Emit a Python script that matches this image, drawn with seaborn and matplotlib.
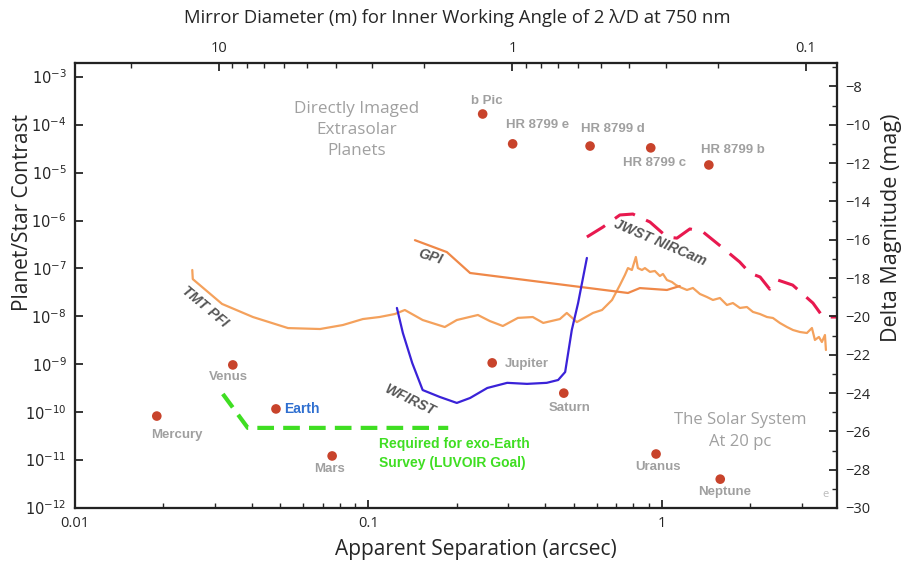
import numpy as np
import pandas as pd
import matplotlib
matplotlib.use("Agg")
import matplotlib.pyplot as plt
import matplotlib.ticker as mticker
import seaborn as sns

# ---------------- data ----------------
planet_names = ["b Pic", "HR 8799 e", "HR 8799 d", "HR 8799 c", "HR 8799 b",
                "Jupiter", "Saturn", "Uranus", "Neptune",
                "Venus", "Earth", "Mercury", "Mars"]
planet_sep = [0.245, 0.310, 0.569, 0.916, 1.445,
              0.264, 0.463, 0.955, 1.58,
              0.0345, 0.0484, 0.019, 0.0752]
planet_contrast = [1.68e-4, 4.0e-5, 3.6e-5, 3.3e-5, 1.45e-5,
                   1.07e-9, 2.5e-10, 1.34e-11, 4.0e-12,
                   9.7e-10, 1.17e-10, 8.3e-11, 1.22e-11]

tmt_sep = [0.0251, 0.0252, 0.0317, 0.0404, 0.0532, 0.0684, 0.0818, 0.0957, 0.109,
           0.123, 0.133, 0.153, 0.182, 0.200, 0.236, 0.259, 0.287, 0.323, 0.363,
           0.394, 0.449, 0.474, 0.513, 0.582, 0.625, 0.676, 0.719, 0.748, 0.766,
           0.790, 0.815, 0.828, 0.855, 0.875, 0.910, 0.946, 0.984, 1.008, 1.04,
           1.082, 1.116, 1.15, 1.217, 1.275, 1.347, 1.423, 1.492, 1.576, 1.665,
           1.745, 1.844, 1.948, 2.042, 2.158, 2.280, 2.389, 2.523, 2.667, 2.795,
           2.953, 3.119, 3.244, 3.321, 3.427, 3.508, 3.593, 3.621]
tmt_contrast = [9.3e-8, 6.0e-8, 1.82e-8, 9.7e-9, 5.7e-9, 5.45e-9, 6.6e-9, 8.8e-9, 9.7e-9,
                1.12e-8, 1.36e-8, 8.4e-9, 6.0e-9, 8.4e-9, 1.07e-8, 8.0e-9, 6.3e-9, 9.3e-9, 9.7e-9,
                7.3e-9, 8.8e-9, 1.18e-8, 7.6e-9, 1.18e-8, 1.36e-8, 2.2e-8, 4.5e-8, 7.32e-8, 1.02e-7,
                9.3e-8, 1.74e-7, 1.02e-7, 9.3e-8, 1.02e-7, 8.5e-8, 8.87e-8, 6.97e-8, 7.68e-8, 5.75e-8,
                5.22e-8, 4.52e-8, 4.11e-8, 3.56e-8, 3.92e-8, 2.94e-8, 2.54e-8, 2.20e-8, 2.42e-8, 1.73e-8,
                1.90e-8, 1.50e-8, 1.57e-8, 1.24e-8, 1.12e-8, 9.7e-9, 9.26e-9, 7.28e-9, 6.0e-9, 5.2e-9,
                4.72e-9, 4.5e-9, 5.72e-9, 3.22e-9, 3.72e-9, 2.92e-9, 4.09e-9, 1.99e-9]

gpi_sep = [0.144, 0.185, 0.222, 0.766, 0.841, 1.04, 1.15]
gpi_contrast = [3.9e-7, 2.2e-7, 8.05e-8, 3.08e-8, 3.9e-8, 3.56e-8, 4.3e-8]

wfirst_sep = [0.125, 0.131, 0.141, 0.153, 0.175, 0.200, 0.222, 0.254, 0.297,
              0.347, 0.405, 0.443, 0.468, 0.493, 0.518, 0.555]
wfirst_contrast = [1.5e-8, 4.5e-9, 1.06e-9, 2.9e-10, 2.08e-10, 1.56e-10, 1.98e-10, 3.2e-10, 4.1e-10,
                   3.9e-10, 4.1e-10, 4.7e-10, 6.9e-10, 5.2e-9, 1.9e-8, 1.66e-7]

jwst_sep = [0.555, 0.629, 0.719, 0.796, 0.910, 1.04, 1.125, 1.245, 1.38, 1.61, 1.84,
            1.995, 2.16, 2.33, 2.48, 2.79, 3.27, 3.54, 3.95]
jwst_contrast = [4.55e-7, 7.3e-7, 1.31e-6, 1.37e-6, 9.35e-7, 4.55e-7, 4.3e-7, 6.7e-7, 5.8e-7,
                 2.7e-7, 1.37e-7, 8.0e-8, 6.65e-8, 3.7e-8, 5.75e-8, 4.5e-8, 1.9e-8, 9.7e-9, 9.7e-9]

luvoir_sep = [0.0319, 0.0388, 0.187]
luvoir_contrast = [2.4e-10, 4.7e-11, 4.7e-11]

y_ticks = [1e-3, 1e-4, 1e-5, 1e-6, 1e-7, 1e-8, 1e-9, 1e-10, 1e-11, 1e-12]
y_ticklabels = [r"$10^{-3}$", r"$10^{-4}$", r"$10^{-5}$", r"$10^{-6}$", r"$10^{-7}$",
                r"$10^{-8}$", r"$10^{-9}$", r"$10^{-10}$", r"$10^{-11}$", r"$10^{-12}$"]
x_ticks = [0.01, 0.1, 1]
x_ticklabels = ["0.01", "0.1", "1"]
mag_ticks = [-8, -10, -12, -14, -16, -18, -20, -22, -24, -26, -28, -30]
diam_major = [10, 1, 0.1]
diam_ticklabels = ["10", "1", "0.1"]
diam_minor = [20, 9, 8, 7, 6, 5, 4, 3, 2, 0.9, 0.8, 0.7, 0.6, 0.5, 0.4, 0.3, 0.2]
IWA_CONST = 0.3094  # arcsec * m : 2 * 750 nm / D in arcsec

# ---------------- style ----------------
sns.set_style("ticks")
plt.rcParams["font.family"] = ["Open Sans", "DejaVu Sans"]
plt.rcParams["mathtext.fontset"] = "dejavusans"

fig = plt.figure(figsize=(9.10, 5.61), dpi=100)
ax = fig.add_axes([0.0824, 0.0945, 0.8374, 0.7932])

ORANGE = "#f4a15c"
GPI_OR = "#ef8848"
BLUE = "#3a22d8"
CRIMSON = "#e8194f"
GREEN = "#3fde22"
DOT = "#c8432b"
GRAY = "#a0a0a0"

df_tmt = pd.DataFrame({"sep": tmt_sep, "c": tmt_contrast})
df_gpi = pd.DataFrame({"sep": gpi_sep, "c": gpi_contrast})
df_wf = pd.DataFrame({"sep": wfirst_sep, "c": wfirst_contrast})
df_jw = pd.DataFrame({"sep": jwst_sep, "c": jwst_contrast})
df_lv = pd.DataFrame({"sep": luvoir_sep, "c": luvoir_contrast})
df_pl = pd.DataFrame({"name": planet_names, "sep": planet_sep, "c": planet_contrast})

sns.lineplot(data=df_tmt, x="sep", y="c", ax=ax, sort=False, estimator=None, color=ORANGE, lw=1.6)
sns.lineplot(data=df_gpi, x="sep", y="c", ax=ax, sort=False, estimator=None, color=GPI_OR, lw=1.6)
sns.lineplot(data=df_wf, x="sep", y="c", ax=ax, sort=False, estimator=None, color=BLUE, lw=1.6)
sns.lineplot(data=df_jw, x="sep", y="c", ax=ax, sort=False, estimator=None, color=CRIMSON, lw=2.2)
ax.lines[-1].set_dashes([7, 4])
sns.lineplot(data=df_lv, x="sep", y="c", ax=ax, sort=False, estimator=None, color=GREEN, lw=3.0)
ax.lines[-1].set_dashes([4, 2.2])
sns.scatterplot(data=df_pl, x="sep", y="c", ax=ax, color=DOT, s=48, edgecolor="none", zorder=5)

ax.set_xscale("log")
ax.set_yscale("log")
XLIM = (0.01, 3.95)
YLIM = (1e-12, 1.95e-3)
ax.set_xlim(*XLIM)
ax.set_ylim(*YLIM)

ax.set_yticks(y_ticks)
ax.set_yticklabels(y_ticklabels)
ax.yaxis.set_minor_locator(mticker.NullLocator())
ax.set_xticks(x_ticks)
ax.set_xticklabels(x_ticklabels)
ax.xaxis.set_minor_locator(mticker.LogLocator(base=10, subs=np.arange(2, 10)))
ax.xaxis.set_minor_formatter(mticker.NullFormatter())

ax.tick_params(axis="both", which="major", direction="in", length=6, width=1.3, labelsize=10.5, pad=6,
               top=False, right=False)
ax.tick_params(axis="both", which="minor", direction="in", length=3.5, width=1.0, top=False, right=False)
for sp in ax.spines.values():
    sp.set_linewidth(1.5)
    sp.set_color("#222222")

ax.set_xlabel("Apparent Separation (arcsec)", fontsize=15)
ax.xaxis.set_label_coords(0.526, -0.07)
ax.set_ylabel("Planet/Star Contrast", fontsize=15)
ax.yaxis.set_label_coords(-0.055, 0.665)

# right axis: delta magnitude (2.5 log10 contrast)
axr = ax.twinx()
axr.set_ylim(2.5 * np.log10(YLIM[0]), 2.5 * np.log10(YLIM[1]))
axr.set_yticks(mag_ticks)
axr.yaxis.set_minor_locator(mticker.MultipleLocator(1))
axr.tick_params(axis="y", which="major", direction="in", length=6, width=1.3, labelsize=10.5, pad=6)
axr.tick_params(axis="y", which="minor", direction="in", length=3.5, width=1.0)
axr.set_ylabel("Delta Magnitude (mag)", fontsize=15.5)
axr.yaxis.set_label_coords(1.058, 0.63)
for sp in axr.spines.values():
    sp.set_linewidth(1.5)
    sp.set_color("#222222")

# top axis: mirror diameter giving IWA = 2 lambda/D at 750 nm
axt = ax.twiny()
axt.set_xscale("log")
axt.set_xlim(*XLIM)
axt.set_xticks([IWA_CONST / d for d in diam_major])
axt.set_xticklabels(diam_ticklabels)
axt.set_xticks([IWA_CONST / d for d in diam_minor], minor=True)
axt.xaxis.set_minor_formatter(mticker.NullFormatter())
axt.tick_params(axis="x", which="major", direction="in", length=6, width=1.3, labelsize=10.5, pad=5)
axt.tick_params(axis="x", which="minor", direction="in", length=3.5, width=1.0)
for sp in axt.spines.values():
    sp.set_linewidth(1.5)
    sp.set_color("#222222")
fig.text(457 / 910, 1 - 18 / 561, "Mirror Diameter (m) for Inner Working Angle of 2 \u03bb/D at 750 nm",
         ha="center", va="center", fontsize=13.3)

# ---------------- annotations ----------------
lab = dict(color=GRAY, fontsize=9.5, fontweight="bold", family=["Liberation Sans", "DejaVu Sans"])
ax.text(0.253, 3.2e-4, "b Pic", ha="center", va="center", **lab)
ax.text(0.378, 1.0e-4, "HR 8799 e", ha="center", va="center", **lab)
ax.text(0.681, 8.2e-5, "HR 8799 d", ha="center", va="center", **lab)
ax.text(0.946, 1.6e-5, "HR 8799 c", ha="center", va="center", **lab)
ax.text(1.745, 2.98e-5, "HR 8799 b", ha="center", va="center", **lab)
ax.text(0.2917, 1.01e-9, "Jupiter", ha="left", va="center", **lab)
ax.text(0.486, 1.22e-10, "Saturn", ha="center", va="center", **lab)
ax.text(0.969, 7.2e-12, "Uranus", ha="center", va="center", **lab)
ax.text(1.64, 2.16e-12, "Neptune", ha="center", va="center", **lab)
ax.text(0.0332, 5.4e-10, "Venus", ha="center", va="center", **lab)
ax.text(0.02226, 3.3e-11, "Mercury", ha="center", va="center", **lab)
ax.text(0.0739, 6.5e-12, "Mars", ha="center", va="center", **lab)
ax.text(0.0515, 1.17e-10, "Earth", ha="left", va="center", color="#2f6fd0", fontsize=10,
        fontweight="bold", family=["Liberation Sans", "DejaVu Sans"])
ax.text(3.62, 1.9e-12, "e", ha="center", va="center", color="#bbbbbb", fontsize=8)

ax.text(0.1086, 1.4e-11, "Required for exo-Earth\nSurvey (LUVOIR Goal)", ha="left", va="center",
        color=GREEN, fontsize=10, fontweight="bold", linespacing=1.45,
        family=["Liberation Sans", "DejaVu Sans"])

ax.text(0.0914, 7.8e-5, "Directly Imaged\nExtrasolar\nPlanets", ha="center", va="center",
        color=GRAY, fontsize=12.3, linespacing=1.45)
ax.text(1.844, 4.05e-11, "The Solar System\nAt 20 pc", ha="center", va="center",
        color=GRAY, fontsize=12, linespacing=1.45)

rot = dict(color="#555555", fontsize=10.3, fontweight="bold", fontstyle="italic",
           family=["Liberation Sans", "DejaVu Sans"], ha="center", va="center")
ax.text(0.984, 3.4e-7, "JWST NIRCam", rotation=-23, **rot)
ax.text(0.162, 1.74e-7, "GPI", rotation=-17, **rot)
ax.text(0.0277, 1.57e-8, "TMT PFI", rotation=-40, **rot)
ax.text(0.139, 1.8e-10, "WFIRST", rotation=-26, **rot)

fig.savefig("out.png", dpi=100)
